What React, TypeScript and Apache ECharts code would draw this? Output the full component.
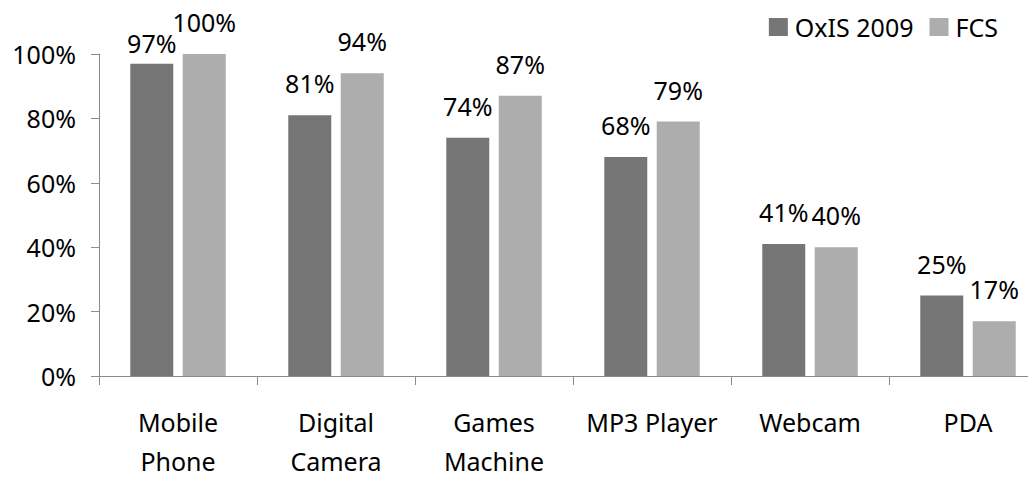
import React, { useEffect, useRef } from "react";
import * as echarts from "echarts";

const categories = ["Mobile\nPhone", "Digital\nCamera", "Games\nMachine", "MP3 Player", "Webcam", "PDA"];
const oxis2009 = [97, 81, 74, 68, 41, 25];
const fcs = [100, 94, 87, 79, 40, 17];
const seriesNames = ["OxIS 2009", "FCS"];
const yTicks = { min: 0, max: 100, interval: 20 };

const FONT = "Noto Sans";
const CW = 1060;

export default function App() {
  const ref = useRef<HTMLDivElement>(null);
  useEffect(() => {
    const chart = echarts.init(ref.current!, null, { renderer: "svg" });
    const labelBase = {
      show: true,
      position: "top",
      distance: 17,
      fontSize: 25,
      lineHeight: 30,
      color: "#000",
      fontFamily: FONT,
      formatter: "{c}%",
    };
    chart.setOption({
      animation: false,
      textStyle: { fontFamily: FONT },
      legend: {
        right: CW - 998,
        top: 12,
        padding: 0,
        itemWidth: 19,
        itemHeight: 18,
        itemGap: 16,
        icon: "rect",
        textStyle: { fontSize: 25, lineHeight: 30, color: "#000", fontFamily: FONT, padding: [0, 0, 0, 2] },
        data: seriesNames,
      },
      grid: { left: 99, right: CW - 1047, top: 54, bottom: 99, containLabel: false },
      xAxis: {
        type: "category",
        data: categories,
        axisLine: { lineStyle: { color: "#8c8c8c", width: 1 } },
        axisTick: { show: true, length: 9, lineStyle: { color: "#8c8c8c" } },
        axisLabel: { fontSize: 25, lineHeight: 39, color: "#000", margin: 26, interval: 0, fontFamily: FONT },
      },
      yAxis: {
        type: "value",
        min: yTicks.min,
        max: yTicks.max,
        interval: yTicks.interval,
        splitLine: { show: false },
        axisLine: { show: true, lineStyle: { color: "#8c8c8c", width: 1 } },
        axisTick: { show: true, length: 8, lineStyle: { color: "#8c8c8c" } },
        axisLabel: { fontSize: 25, color: "#000", margin: 23, formatter: "{value}%", fontFamily: FONT },
      },
      series: [
        {
          name: seriesNames[0],
          type: "bar",
          barWidth: 43,
          barGap: "22%",
          itemStyle: { color: "#767676" },
          label: labelBase,
          data: oxis2009.map((v, i) => (i === 0 ? { value: v, label: { distance: 6 } } : v)),
        },
        {
          name: seriesNames[1],
          type: "bar",
          barWidth: 43,
          barGap: "22%",
          itemStyle: { color: "#adadad" },
          label: labelBase,
          data: fcs,
        },
      ],
    });
    return () => chart.dispose();
  }, []);
  return (
    <div style={{ width: 1036, height: 480, overflow: "hidden", margin: -8, position: "relative" }}>
      <div ref={ref} style={{ width: CW, height: 480 }} />
    </div>
  );
}
